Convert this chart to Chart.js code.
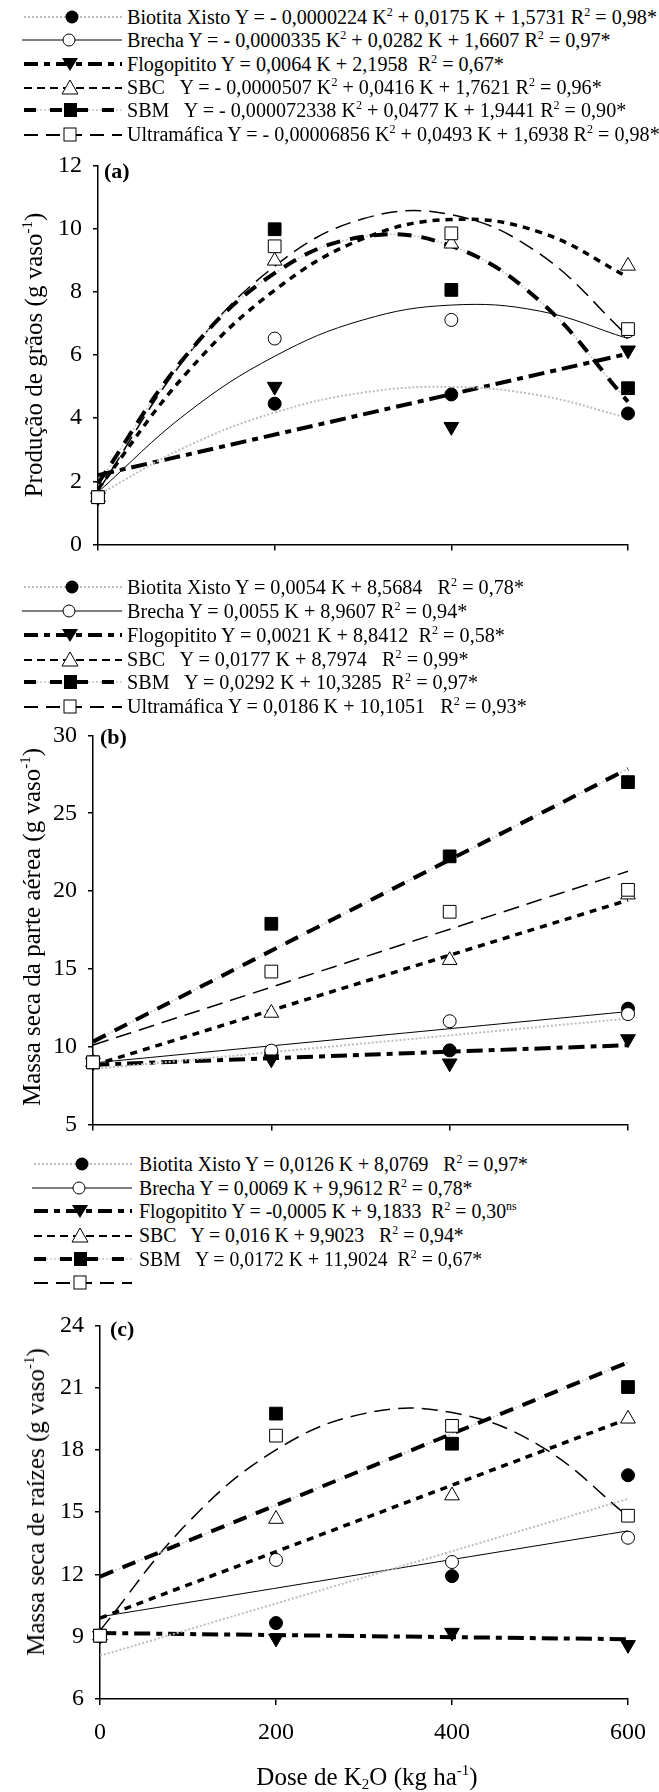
<!DOCTYPE html>
<html>
<head>
<meta charset="utf-8">
<script src="https://cdn.jsdelivr.net/npm/chart.js@4.4.0/dist/chart.umd.min.js"></script>
<style>
    body { margin: 0; background: #fff; }
    #wrap { position: relative; width: 659px; height: 1792px; overflow: hidden; font-family: 'Liberation Serif', 'Times New Roman', serif; color: #000; }
    canvas { position: absolute; left: 0; }
    .leg { position: absolute; left: 0; height: 22px; width: 659px; }
    .leg svg { position: absolute; left: 0; top: 0; }
    .leg span { position: absolute; top: 0; line-height: 22px; font-size: 20px; white-space: nowrap; transform-origin: left center; }
    sup { font-size: 60%; line-height: 0; vertical-align: 0.65em; }
    sub { font-size: 60%; line-height: 0; vertical-align: -0.25em; }
    .ytitle { position: absolute; font-size: 25px; white-space: nowrap; transform: translate(-50%, -50%) rotate(-90deg); }
    .xtitle { position: absolute; font-size: 25px; white-space: nowrap; transform: translate(-50%, -50%); }
    .plab { position: absolute; font-size: 22px; font-weight: bold; }
</style>
</head>
<body>
<div id="wrap">
    <canvas id="chartA" width="659" height="430" style="top:140px"></canvas>
    <canvas id="chartB" width="659" height="440" style="top:710px"></canvas>
    <canvas id="chartC" width="659" height="492" style="top:1300px"></canvas>

    <div class="ytitle" style="left:34px; top:355px">Produção de grãos (g vaso<sup>-1</sup>)</div>
    <div class="ytitle" style="left:32px; top:927px">Massa seca da parte aérea (g vaso<sup>-1</sup>)</div>
    <div class="ytitle" style="left:36px; top:1502px">Massa seca de raízes (g vaso<sup>-1</sup>)</div>
    <div class="xtitle" style="left:367px; top:1777px">Dose de K<sub>2</sub>O (kg ha<sup>-1</sup>)</div>

    <div class="plab" style="left:104px; top:158px">(a)</div>
    <div class="plab" style="left:100px; top:724px">(b)</div>
    <div class="plab" style="left:110px; top:1316px">(c)</div>
</div>

<script>
// doses de K2O
var doses = [0, 200, 400, 600];
var fitX = [0, 100, 200, 300, 400, 500, 600];
var linX = [0, 600];

// (a) producao de graos - pontos observados
var a_bio = [1.5, 4.46, 4.75, 4.15];
var a_bre = [1.5, 6.52, 7.11, 6.75];
var a_flo = [1.5, 5.0, 3.73, 6.15];
var a_sbc = [1.5, 8.98, 9.52, 8.82];
var a_sbm = [1.5, 9.98, 8.06, 4.95];
var a_ult = [1.5, 9.44, 9.85, 6.82];
// (a) curvas ajustadas
var a_bio_fit = [1.57, 3.10, 4.18, 4.81, 4.99, 4.72, 4.01];
var a_bre_fit = [1.66, 4.15, 5.96, 7.11, 7.58, 7.39, 6.52];
var a_flo_fit = [2.20, 6.04];
var a_sbc_fit = [1.76, 5.42, 8.05, 9.68, 10.29, 9.89, 8.47];
var a_sbm_fit = [1.94, 5.99, 8.59, 9.74, 9.45, 7.71, 4.52];
var a_ult_fit = [1.69, 5.94, 8.81, 10.31, 10.44, 9.20, 6.59];

// (b) massa seca da parte aerea
var b_bio = [9.0, 9.6, 9.77, 12.45];
var b_bre = [9.0, 9.75, 11.64, 12.1];
var b_flo = [9.0, 9.2, 8.94, 10.5];
var b_sbc = [9.0, 12.17, 15.56, 19.77];
var b_sbm = [9.0, 17.9, 22.23, 27.0];
var b_ult = [9.0, 14.83, 18.67, 20.08];
var b_bio_fit = [8.57, 11.81];
var b_bre_fit = [8.96, 12.26];
var b_flo_fit = [8.84, 10.10];
var b_sbc_fit = [8.80, 19.42];
var b_sbm_fit = [10.33, 27.85];
var b_ult_fit = [10.11, 21.27];

// (c) massa seca de raizes
var c_bio = [9.05, 9.66, 11.92, 16.78];
var c_bre = [9.05, 12.7, 12.6, 13.77];
var c_flo = [9.05, 8.92, 9.2, 8.61];
var c_sbc = [9.05, 14.67, 15.8, 19.5];
var c_sbm = [9.05, 19.75, 18.3, 21.03];
var c_ult = [9.05, 18.69, 19.16, 14.83];
var c_bio_fit = [8.08, 15.64];
var c_bre_fit = [9.96, 14.10];
var c_flo_fit = [9.18, 8.88];
var c_sbc_fit = [9.90, 19.50];
var c_sbm_fit = [11.90, 22.22];
var c_ult_fit = [9.3, 14.5, 18.0, 19.75, 19.8, 18.2, 14.8];

// textos das legendas
var legA = [
    'Biotita Xisto Y = - 0,0000224 K<sup>2</sup> + 0,0175 K + 1,5731 R<sup>2</sup> = 0,98*',
    'Brecha Y = - 0,0000335 K<sup>2</sup> + 0,0282 K + 1,6607 R<sup>2</sup> = 0,97*',
    'Flogopitito Y = 0,0064 K + 2,1958&nbsp; R<sup>2</sup> = 0,67*',
    'SBC&nbsp;&nbsp; Y = - 0,0000507 K<sup>2</sup> + 0,0416 K + 1,7621 R<sup>2</sup> = 0,96*',
    'SBM&nbsp;&nbsp; Y = - 0,000072338 K<sup>2</sup> + 0,0477 K + 1,9441 R<sup>2</sup> = 0,90*',
    'Ultramáfica Y = - 0,00006856 K<sup>2</sup> + 0,0493 K + 1,6938 R<sup>2</sup> = 0,98*'
];
var legB = [
    'Biotita Xisto Y = 0,0054 K + 8,5684&nbsp;&nbsp; R<sup>2</sup> = 0,78*',
    'Brecha Y = 0,0055 K + 8,9607 R<sup>2</sup> = 0,94*',
    'Flogopitito Y = 0,0021 K + 8,8412&nbsp; R<sup>2</sup> = 0,58*',
    'SBC&nbsp;&nbsp; Y = 0,0177 K + 8,7974&nbsp;&nbsp; R<sup>2</sup> = 0,99*',
    'SBM&nbsp;&nbsp; Y = 0,0292 K + 10,3285&nbsp; R<sup>2</sup> = 0,97*',
    'Ultramáfica Y = 0,0186 K + 10,1051&nbsp;&nbsp; R<sup>2</sup> = 0,93*'
];
var legC = [
    'Biotita Xisto Y = 0,0126 K + 8,0769&nbsp;&nbsp; R<sup>2</sup> = 0,97*',
    'Brecha Y = 0,0069 K + 9,9612 R<sup>2</sup> = 0,78*',
    'Flogopitito Y = -0,0005 K + 9,1833&nbsp; R<sup>2</sup> = 0,30<sup>ns</sup>',
    'SBC&nbsp;&nbsp; Y = 0,016 K + 9,9023&nbsp;&nbsp; R<sup>2</sup> = 0,94*',
    'SBM&nbsp;&nbsp; Y = 0,0172 K + 11,9024&nbsp; R<sup>2</sup> = 0,67*',
    ''
];

var keys = ['bio', 'bre', 'flo', 'sbc', 'sbm', 'ult'];
var fonte = "'Liberation Serif', 'Times New Roman', serif";

// estilos de linha e marcador
var estilo = {
    bio: { line: '#bdbdbd', width: 2, dash: [2, 2], ps: 'circle', fill: '#000', r: 6.5, rot: 0 },
    bre: { line: '#000', width: 1, dash: [], ps: 'circle', fill: '#fff', r: 6.5, rot: 0 },
    flo: { line: '#000', width: 4, dash: [16, 6, 6, 6], ps: 'triangle', fill: '#000', r: 8.5, rot: 180 },
    sbc: { line: '#000', width: 3.5, dash: [7, 6], ps: 'triangle', fill: '#fff', r: 8.5, rot: 0 },
    sbm: { line: '#000', width: 4, dash: [14, 10], ps: 'rect', fill: '#000', r: 9, rot: 0 },
    ult: { line: '#000', width: 1.5, dash: [16, 8], ps: 'rect', fill: '#fff', r: 9, rot: 0 }
};

function pts(xs, ys) {
    return xs.map(function (x, i) { return { x: x, y: ys[i] }; });
}

function fixWidth(w) { return function (s) { s.width = w; }; }
function fixHeight(h) { return function (s) { s.height = h; }; }

function makeChart(id, obs, fits, cfg) {
    var datasets = [];
    // marcadores primeiro (ficam por cima)
    ['ult', 'sbm', 'sbc', 'flo', 'bre', 'bio'].forEach(function (k) {
        var e = estilo[k];
        datasets.push({
            data: pts(doses, obs[k]),
            showLine: false,
            pointStyle: e.ps,
            pointRotation: e.rot,
            pointRadius: e.r,
            pointBackgroundColor: e.fill,
            pointBorderColor: '#000',
            pointBorderWidth: 1,
            clip: false
        });
    });
    keys.forEach(function (k) {
        var e = estilo[k];
        var xs = fits[k].length == 2 ? linX : fitX;
        datasets.push({
            data: pts(xs, fits[k]),
            showLine: true,
            borderColor: e.line,
            borderWidth: e.width,
            borderDash: e.dash,
            tension: 0.4,
            pointRadius: 0,
            clip: false
        });
        if (k == 'sbm') {
            // linha pontilhada cinza por baixo dos tracos do SBM
            datasets.push({
                data: pts(xs, fits[k]),
                showLine: true,
                borderColor: '#c8c8c8',
                borderWidth: 1.5,
                borderDash: [2, 2],
                tension: 0.4,
                pointRadius: 0,
                clip: false
            });
        }
    });

    return new Chart(document.getElementById(id), {
        type: 'scatter',
        data: { datasets: datasets },
        options: {
            responsive: false,
            animation: false,
            layout: { padding: { left: 0, right: cfg.padRight, top: cfg.padTop, bottom: 0 } },
            plugins: { legend: { display: false }, tooltip: { enabled: false } },
            scales: {
                x: {
                    type: 'linear', min: 0, max: 600,
                    afterFit: fixHeight(cfg.xHeight),
                    grid: { drawOnChartArea: false, color: '#000', lineWidth: 1.5, tickLength: 6 },
                    border: { color: '#000', width: 1.5 },
                    ticks: {
                        stepSize: 200, padding: 13,
                        color: cfg.xLabels ? '#000' : 'rgba(0,0,0,0)',
                        font: { family: fonte, size: 24 }
                    }
                },
                y: {
                    min: cfg.ymin, max: cfg.ymax,
                    afterFit: fixWidth(cfg.yWidth),
                    grid: { drawOnChartArea: false, color: '#000', lineWidth: 1.5, tickLength: 5 },
                    border: { color: '#000', width: 1.5 },
                    ticks: {
                        stepSize: cfg.step, padding: 11, color: '#000',
                        font: { family: fonte, size: 24 }
                    }
                }
            }
        }
    });
}

makeChart('chartA',
    { bio: a_bio, bre: a_bre, flo: a_flo, sbc: a_sbc, sbm: a_sbm, ult: a_ult },
    { bio: a_bio_fit, bre: a_bre_fit, flo: a_flo_fit, sbc: a_sbc_fit, sbm: a_sbm_fit, ult: a_ult_fit },
    { ymin: 0, ymax: 12, step: 2, yWidth: 98, padRight: 22, padTop: 23, xHeight: 22, xLabels: false });

makeChart('chartB',
    { bio: b_bio, bre: b_bre, flo: b_flo, sbc: b_sbc, sbm: b_sbm, ult: b_ult },
    { bio: b_bio_fit, bre: b_bre_fit, flo: b_flo_fit, sbc: b_sbc_fit, sbm: b_sbm_fit, ult: b_ult_fit },
    { ymin: 5, ymax: 30, step: 5, yWidth: 93, padRight: 17, padTop: 18, xHeight: 22, xLabels: false });

makeChart('chartC',
    { bio: c_bio, bre: c_bre, flo: c_flo, sbc: c_sbc, sbm: c_sbm, ult: c_ult },
    { bio: c_bio_fit, bre: c_bre_fit, flo: c_flo_fit, sbc: c_sbc_fit, sbm: c_sbm_fit, ult: c_ult_fit },
    { ymin: 6, ymax: 24, step: 3, yWidth: 100, padRight: 24, padTop: 14, xHeight: 93, xLabels: true });

// amostras de linha da legenda (svg)
var amostra = {
    bio: '<line x1="2" y1="11" x2="100" y2="11" stroke="#bdbdbd" stroke-width="2" stroke-dasharray="2 2"/>' +
         '<circle cx="50" cy="11" r="6.5" fill="#000"/>',
    bre: '<line x1="0" y1="11" x2="100" y2="11" stroke="#000" stroke-width="1"/>' +
         '<circle cx="47" cy="11" r="6" fill="#fff" stroke="#000"/>',
    flo: '<line x1="2" y1="11" x2="100" y2="11" stroke="#000" stroke-width="4" stroke-dasharray="14 6 6 6"/>' +
         '<polygon points="40,5 56,5 48,18" fill="#000"/>',
    sbc: '<line x1="2" y1="12" x2="100" y2="12" stroke="#000" stroke-width="2" stroke-dasharray="8 5"/>' +
         '<polygon points="48,4 40,18 56,18" fill="#fff" stroke="#000"/>',
    sbm: '<line x1="2" y1="11" x2="100" y2="11" stroke="#c8c8c8" stroke-width="1.5" stroke-dasharray="2 2"/>' +
         '<line x1="2" y1="11" x2="100" y2="11" stroke="#000" stroke-width="4" stroke-dasharray="12 14"/>' +
         '<rect x="42" y="4" width="13" height="14" fill="#000"/>',
    ult: '<line x1="2" y1="12" x2="100" y2="12" stroke="#000" stroke-width="2" stroke-dasharray="14 8"/>' +
         '<rect x="42" y="5" width="12" height="13" fill="#fff" stroke="#000"/>'
};

function legenda(textos, rows, svgLeft, textLeft, targetWidth) {
    var wrap = document.getElementById('wrap');
    var spans = [];
    textos.forEach(function (t, i) {
        var d = document.createElement('div');
        d.className = 'leg';
        d.style.top = (rows[i] - 11) + 'px';
        d.innerHTML = '<svg width="104" height="22" style="left:' + svgLeft + 'px">' + amostra[keys[i]] + '</svg>' +
            '<span style="left:' + textLeft + 'px">' + t + '</span>';
        wrap.appendChild(d);
        spans.push(d.querySelector('span'));
    });
    // ajusta a largura do texto ao da figura
    var f = targetWidth / spans[0].getBoundingClientRect().width;
    spans.forEach(function (s) { s.style.transform = 'scaleX(' + f + ')'; });
}

legenda(legA, [17, 40, 64, 87, 110, 134], 22, 127, 530);
legenda(legB, [587, 611, 635, 659, 682, 706], 22, 127, 397);
legenda(legC, [1164, 1188, 1211, 1235, 1259, 1282], 32, 139, 389);
</script>
</body>
</html>
